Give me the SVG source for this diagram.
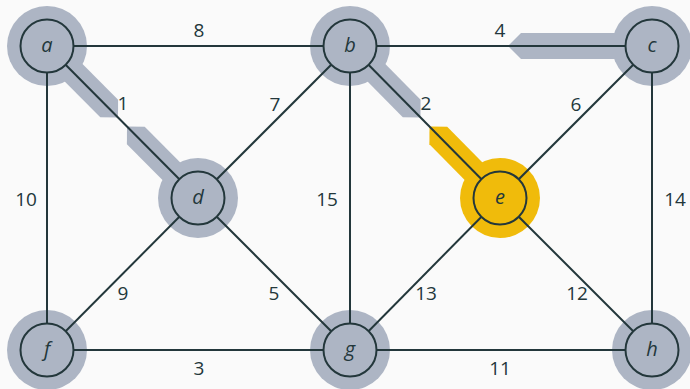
<svg xmlns="http://www.w3.org/2000/svg" width="690" height="389" viewBox="0 0 690 389">
<style>
.hl{fill:#adb5c4}
.hy{fill:#f0bb0b}
.e{stroke:#23373b;stroke-width:2;fill:none}
.n{fill:#adb5c4;stroke:#23373b;stroke-width:2}
.ny{fill:#f0bb0b;stroke:#23373b;stroke-width:2}
.nl{font-family:"Open Sans","DejaVu Sans",sans-serif;font-style:italic;font-size:20px;fill:#23373b;text-anchor:middle}
.w{font-family:"Open Sans","DejaVu Sans",sans-serif;font-size:19px;fill:#23373b;text-anchor:middle}
</style>
<rect width="690" height="389" fill="#fafafa"/>
<g id="highlights">
<circle class="hl" cx="47" cy="46" r="40"/>
<circle class="hl" cx="350" cy="46" r="40"/>
<circle class="hl" cx="652" cy="46" r="40"/>
<circle class="hl" cx="198" cy="198" r="40"/>
<circle class="hy" cx="500" cy="198" r="40"/>
<circle class="hl" cx="47" cy="350" r="40"/>
<circle class="hl" cx="350" cy="350" r="40"/>
<circle class="hl" cx="652" cy="350" r="40"/>
<polygon class="hl" points="38.1,54.8 100.3,117.3 118,117.4 118.1,99.7 55.9,37.2"/>
<polygon class="hl" points="127,126.6 126.9,144.3 189.1,206.8 206.9,189.2 144.7,126.7"/>
<polygon class="hl" points="341.1,54.8 402.8,117.3 420.5,117.4 420.6,99.7 358.9,37.2"/>
<polygon class="hy" points="429.5,126.6 429.4,144.2 491.1,206.8 508.9,189.2 447.2,126.7"/>
<polygon class="hl" points="508,46 521,33 652,33 652,59 521,59"/>
</g>
<g id="connectors">
<line class="e" x1="47" y1="46" x2="350" y2="46"/>
<line class="e" x1="350" y1="46" x2="652" y2="46"/>
<line class="e" x1="47" y1="46" x2="198" y2="198"/>
<line class="e" x1="350" y1="46" x2="198" y2="198"/>
<line class="e" x1="350" y1="46" x2="500" y2="198"/>
<line class="e" x1="652" y1="46" x2="500" y2="198"/>
<line class="e" x1="47" y1="46" x2="47" y2="350"/>
<line class="e" x1="350" y1="46" x2="350" y2="350"/>
<line class="e" x1="652" y1="46" x2="652" y2="350"/>
<line class="e" x1="198" y1="198" x2="47" y2="350"/>
<line class="e" x1="198" y1="198" x2="350" y2="350"/>
<line class="e" x1="500" y1="198" x2="350" y2="350"/>
<line class="e" x1="500" y1="198" x2="652" y2="350"/>
<line class="e" x1="47" y1="350" x2="350" y2="350"/>
<line class="e" x1="350" y1="350" x2="652" y2="350"/>
<text class="w" x="199" y="37">8</text>
<text class="w" x="500" y="37">4</text>
<text class="w" x="123" y="110">1</text>
<text class="w" x="275" y="111">7</text>
<text class="w" x="426" y="110">2</text>
<text class="w" x="576" y="111">6</text>
<text class="w" x="26" y="206">10</text>
<text class="w" x="327" y="206">15</text>
<text class="w" x="675" y="206">14</text>
<text class="w" x="123" y="300">9</text>
<text class="w" x="274" y="300">5</text>
<text class="w" x="426" y="300">13</text>
<text class="w" x="577" y="300">12</text>
<text class="w" x="199" y="375">3</text>
<text class="w" x="500" y="375">11</text>
</g>
<g id="node-a"><circle class="n" cx="47" cy="46" r="26.5"/><text class="nl" x="47" y="52">a</text></g>
<g id="node-b"><circle class="n" cx="350" cy="46" r="26.5"/><text class="nl" x="350" y="52">b</text></g>
<g id="node-c"><circle class="n" cx="652" cy="46" r="26.5"/><text class="nl" x="652" y="52">c</text></g>
<g id="node-d"><circle class="n" cx="198" cy="198" r="26.5"/><text class="nl" x="198" y="204">d</text></g>
<g id="node-e"><circle class="ny" cx="500" cy="198" r="26.5"/><text class="nl" x="500" y="204">e</text></g>
<g id="node-f"><circle class="n" cx="47" cy="350" r="26.5"/><text class="nl" x="47" y="356">f</text></g>
<g id="node-g"><circle class="n" cx="350" cy="350" r="26.5"/><text class="nl" x="350" y="356">g</text></g>
<g id="node-h"><circle class="n" cx="652" cy="350" r="26.5"/><text class="nl" x="652" y="356">h</text></g>
</svg>
